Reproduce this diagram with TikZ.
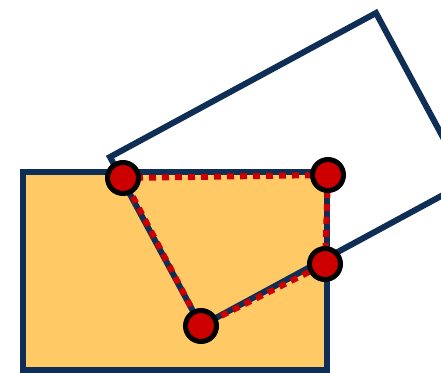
\documentclass[tikz,border=0pt]{standalone}
\definecolor{navy}{RGB}{14,46,86}
\definecolor{fillor}{RGB}{255,201,102}
\definecolor{dotred}{RGB}{204,0,0}
\begin{document}
\begin{tikzpicture}[x=1pt,y=-1pt,
  edge/.style={draw=navy,line width=6pt},
  cutline/.style={draw=dotred,line width=6pt,dash pattern=on 7pt off 6pt},
  vdot/.style={circle,draw=black,fill=dotred,line width=5pt,minimum size=31pt,inner sep=0pt}]
\useasboundingbox (0,0) rectangle (441,372);
\clip (0,0) rectangle (441,372);
\draw[edge,fill=fillor] (23,172) rectangle (327,370);
\draw[edge,line join=miter] (110,157) -- (376,13) -- (467,182) -- (201,326) -- cycle;
\coordinate (p1) at (123,178);
\coordinate (p2) at (328,175);
\coordinate (p3) at (325,264);
\coordinate (p4) at (201,326);
\draw[cutline] (p1) -- (p2) -- (p3) -- (p4) -- cycle;
\node[vdot] (d1) at (p1) {};
\node[vdot] (d2) at (p2) {};
\node[vdot] (d3) at (p3) {};
\node[vdot] (d4) at (p4) {};
\end{tikzpicture}
\end{document}
